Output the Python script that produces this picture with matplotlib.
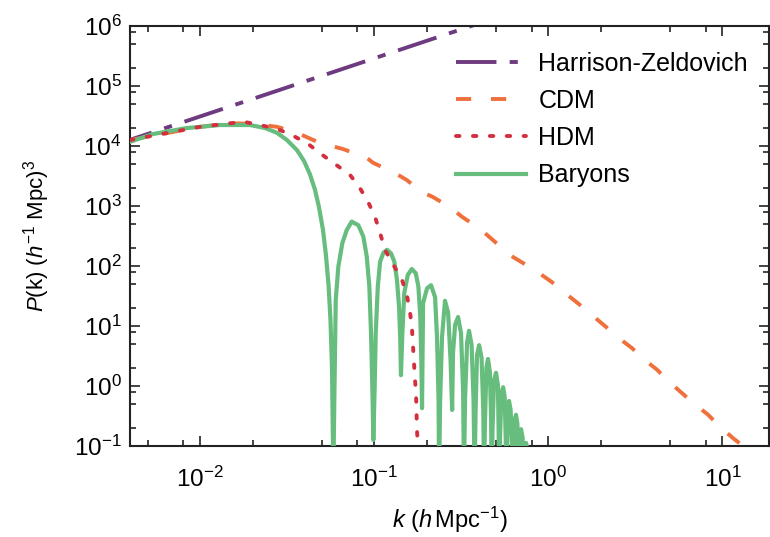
import numpy as np
import matplotlib.pyplot as plt
from matplotlib.ticker import LogLocator, NullFormatter

plt.rcParams['font.family'] = ['Liberation Sans', 'DejaVu Sans']
plt.rcParams['mathtext.fontset'] = 'custom'
plt.rcParams['mathtext.rm'] = 'Liberation Sans'
plt.rcParams['mathtext.it'] = 'Liberation Sans:italic'
plt.rcParams['axes.unicode_minus'] = False

# values, kept as log10(k) and log10(P)
hz_logk = [-2.5, -0.3]
hz_logp = [4.01, 6.14]

cdm_logk = [-2.404, -2.0, -1.830, -1.697, -1.559, -1.444, -1.312, -1.180, -1.042, -1.007,
            -0.881, -0.812, -0.726, -0.663, -0.565, -0.496, -0.393, -0.278, -0.203, -0.077,
            0.021, 0.096, 0.182, 0.251, 0.337, 0.395, 0.481, 0.538, 0.625, 0.682,
            0.768, 0.831, 0.918, 0.975, 1.061, 1.119, 1.216, 1.30]
cdm_logp = [4.10, 4.32, 4.38, 4.37, 4.32, 4.22, 4.05, 3.95, 3.80, 3.72,
            3.55, 3.43, 3.23, 3.15, 2.98, 2.82, 2.62, 2.33, 2.15, 1.93,
            1.73, 1.55, 1.35, 1.18, 0.97, 0.82, 0.63, 0.47, 0.27, 0.10,
            -0.12, -0.28, -0.48, -0.65, -0.87, -1.00, -1.25, -1.45]

hdm_logk = [-2.404, -2.0, -1.830, -1.743, -1.657, -1.553, -1.473, -1.387, -1.312, -1.226,
            -1.140, -1.083, -1.036, -0.996, -0.967, -0.939, -0.893, -0.841, -0.812, -0.795,
            -0.784, -0.772, -0.760, -0.755, -0.746]
hdm_logp = [4.10, 4.32, 4.38, 4.40, 4.35, 4.28, 4.18, 4.05, 3.88, 3.70,
            3.52, 3.30, 3.07, 2.82, 2.55, 2.27, 2.03, 1.77, 1.50, 1.23,
            0.97, 0.38, -0.18, -0.73, -1.23]

# baryons: smooth part, then the acoustic lobes (troughs drop below the axis)
baryon_logk = [-2.404, -2.272, -2.077, -1.887, -1.714, -1.628, -1.559, -1.502, -1.444, -1.404,
               -1.370, -1.341, -1.318, -1.295, -1.278, -1.263, -1.252, -1.243, -1.2356,
               -1.2299, -1.2218, -1.2069, -1.1839, -1.1586, -1.1299, -1.0920, -1.0632, -1.0437,
               -1.0287, -1.0190, -1.0115, -1.0057,
               -0.998, -0.992, -0.980, -0.967, -0.948, -0.927, -0.904, -0.885, -0.870, -0.858,
               -0.851, -0.847,
               -0.839, -0.828, -0.808, -0.785, -0.762, -0.747, -0.736, -0.730, -0.726,
               -0.720, -0.697, -0.674, -0.651, -0.640, -0.631, -0.628,
               -0.622, -0.611, -0.594, -0.576, -0.562, -0.553,
               -0.548, -0.536, -0.519, -0.502, -0.490, -0.485,
               -0.479, -0.467, -0.456, -0.441, -0.430, -0.424,
               -0.418, -0.410, -0.398, -0.384, -0.374, -0.370,
               -0.364, -0.356, -0.347, -0.336, -0.329, -0.326,
               -0.321, -0.312, -0.301, -0.290, -0.286, -0.283,
               -0.278, -0.270, -0.260, -0.251, -0.245, -0.243,
               -0.237, -0.232, -0.226, -0.217, -0.209, -0.206,
               -0.200, -0.193, -0.186, -0.178, -0.172,
               -0.166, -0.157, -0.148, -0.143,
               -0.137, -0.128, -0.120, -0.114]
baryon_logp = [4.07, 4.20, 4.30, 4.35, 4.35, 4.30, 4.22, 4.10, 3.93, 3.75,
               3.53, 3.27, 2.98, 2.60, 2.18, 1.68, 1.10, 0.27, -1.5,
               -0.23, 1.43, 1.99, 2.38, 2.60, 2.74, 2.68, 2.49, 2.16,
               1.66, 0.88, -0.01, -0.90,
               0.00, 0.88, 1.66, 2.07, 2.22, 2.27, 2.21, 2.07, 1.77, 1.32,
               0.77, 0.18,
               0.88, 1.55, 1.85, 1.95, 1.88, 1.66, 1.16, 0.43, -0.37,
               1.38, 1.63, 1.68, 1.48, 0.82, -0.23, -1.5,
               -0.23, 0.82, 1.42, 1.22, 0.43, -0.40,
               0.55, 1.02, 1.15, 0.88, -0.07, -1.5,
               -0.23, 0.72, 0.92, 0.68, -0.23, -1.5,
               -0.40, 0.52, 0.68, 0.47, -0.40, -1.5,
               -0.57, 0.30, 0.45, 0.23, -0.57, -1.5,
               -0.73, 0.10, 0.22, 0.02, -0.73, -1.5,
               -0.90, -0.12, -0.02, -0.18, -0.90, -1.5,
               -0.98, -0.32, -0.25, -0.40, -0.98, -1.5,
               -1.07, -0.55, -0.48, -0.63, -1.5,
               -0.83, -0.72, -0.87, -1.5,
               -1.07, -0.95, -1.07, -1.5]

fig = plt.figure(figsize=(7.7, 5.37), dpi=100)
ax = fig.add_axes([0.1688, 0.1695, 0.830, 0.782])

lw = 2.8
h1, = ax.plot(10 ** np.array(hz_logk), 10 ** np.array(hz_logp), color='#6e3b80', lw=lw,
              dashes=(10.4, 3.4, 2.1, 3.4), label='Harrison-Zeldovich', zorder=2)
h2, = ax.plot(10 ** np.array(cdm_logk), 10 ** np.array(cdm_logp), color='#f0703c', lw=lw,
              dashes=(3.9, 5.1), label='CDM', zorder=3)
h4, = ax.plot(10 ** np.array(baryon_logk), 10 ** np.array(baryon_logp), color='#66bd7d', lw=3.0,
              label='Baryons', zorder=4, solid_joinstyle='round')
h3, = ax.plot(10 ** np.array(hdm_logk), 10 ** np.array(hdm_logp), color='#d3303f', lw=lw,
              dashes=(0.9, 3.45), dash_capstyle='round', label='HDM', zorder=5)

ax.set_xscale('log')
ax.set_yscale('log')
ax.set_xlim(10 ** -2.404, 10 ** 1.268)
ax.set_ylim(0.1, 1e6)

ax.xaxis.set_major_locator(LogLocator(base=10, numticks=20))
ax.yaxis.set_major_locator(LogLocator(base=10, numticks=20))
ax.xaxis.set_minor_locator(LogLocator(base=10, subs=[2, 5, 8], numticks=20))
ax.yaxis.set_minor_locator(LogLocator(base=10, subs=[2, 5, 8], numticks=20))
ax.xaxis.set_minor_formatter(NullFormatter())
ax.yaxis.set_minor_formatter(NullFormatter())

ax.tick_params(which='both', direction='in', top=True, right=True, width=1.2, colors='#222222',
               labelcolor='black', labelsize=17.5)
ax.tick_params(which='major', length=7)
ax.tick_params(which='minor', length=4)
ax.tick_params(axis='x', which='major', pad=15)
ax.tick_params(axis='y', which='major', pad=6)
for s in ax.spines.values():
    s.set_linewidth(1.5)
    s.set_color('#222222')

ax.set_xlabel(r'$k$ ($h\,$Mpc$^{-1}$)', fontsize=17, labelpad=9)
ax.set_ylabel(r'$P$(k) ($h^{-1}$ Mpc)$^{3}$', fontsize=16, labelpad=16)

ax.legend(handles=[h1, h2, h3, h4], loc='upper left', bbox_to_anchor=(0.592, 0.904),
          bbox_transform=fig.transFigure, frameon=False, fontsize=18,
          handlelength=2.8, handletextpad=0.5, labelspacing=0.53, borderpad=0, borderaxespad=0)

fig.savefig('out.png', dpi=100)
